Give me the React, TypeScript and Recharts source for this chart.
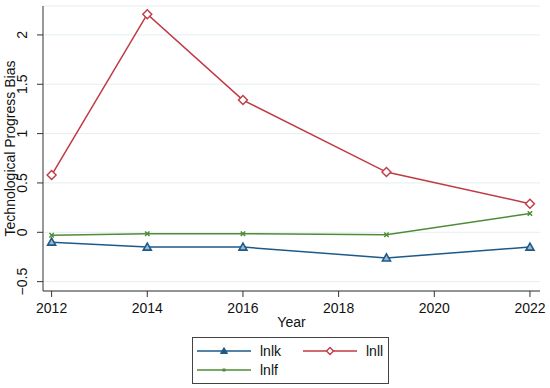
import React from "react";
import { LineChart, Line, XAxis, YAxis, CartesianGrid } from "recharts";

const years = [2012, 2014, 2016, 2019, 2022];
const lnlk = [-0.1, -0.15, -0.15, -0.26, -0.15];
const lnll = [0.58, 2.21, 1.34, 0.61, 0.29];
const lnlf = [-0.03, -0.015, -0.015, -0.025, 0.19];
const xTicks = [2012, 2014, 2016, 2018, 2020, 2022];
const yTicks = [-0.5, 0, 0.5, 1, 1.5, 2];
const seriesNames = ["lnlk", "lnll", "lnlf"];

const C_K = "#1c5a8a";
const C_L = "#c03a44";
const C_F = "#4e8c36";
const FONT = "'Liberation Sans', Arial, sans-serif";

const data = years.map((y, i) => ({ year: y, lnlk: lnlk[i], lnll: lnll[i], lnlf: lnlf[i] }));

const Tri = (props: any) => {
  const { cx, cy } = props;
  if (cx == null || cy == null) return null;
  const s = 4;
  return (
    <polygon
      points={`${cx},${cy - s} ${cx - s},${cy + s * 0.75} ${cx + s},${cy + s * 0.75}`}
      fill="#9fb8cf"
      stroke={C_K}
      strokeWidth={1.6}
    />
  );
};
const Dia = (props: any) => {
  const { cx, cy } = props;
  if (cx == null || cy == null) return null;
  const s = 4.5;
  return (
    <polygon
      points={`${cx},${cy - s} ${cx + s},${cy} ${cx},${cy + s} ${cx - s},${cy}`}
      fill="#fff"
      stroke={C_L}
      strokeWidth={1.4}
    />
  );
};
const Xm = (props: any) => {
  const { cx, cy } = props;
  if (cx == null || cy == null) return null;
  const s = 2.2;
  return (
    <g stroke={C_F} strokeWidth={1.5}>
      <line x1={cx - s} y1={cy - s} x2={cx + s} y2={cy + s} />
      <line x1={cx - s} y1={cy + s} x2={cx + s} y2={cy - s} />
    </g>
  );
};

const YTick = (props: any) => {
  const { x, y, payload } = props;
  const v = payload.value;
  const label = v < 0 ? "\u2212" + String(Math.abs(v)) : String(v);
  return (
    <text
      x={x - 8}
      y={y}
      transform={`rotate(-90, ${x - 8}, ${y})`}
      textAnchor="middle"
      fontSize={14}
      fontFamily={FONT}
      fill="#111"
    >
      {label}
    </text>
  );
};

const XTick = (props: any) => {
  const { x, y, payload } = props;
  return (
    <text x={x} y={y + 14} textAnchor="middle" fontSize={14} fontFamily={FONT} fill="#111">
      {payload.value}
    </text>
  );
};

const LegendBox = () => {
  const item = (x: number, y: number, color: string, Marker: any, label: string) => (
    <g>
      <line x1={x} y1={y} x2={x + 54} y2={y} stroke={color} strokeWidth={1.5} />
      <Marker cx={x + 27} cy={y} />
      <text x={x + 63} y={y + 5} fontSize={14} fontFamily={FONT} fill="#111">
        {label}
      </text>
    </g>
  );
  const SmallTri = (p: any) => (
    <polygon
      points={`${p.cx},${p.cy - 3.5} ${p.cx - 3.5},${p.cy + 2.5} ${p.cx + 3.5},${p.cy + 2.5}`}
      fill={C_K}
      stroke={C_K}
      strokeWidth={1}
    />
  );
  const SmallDia = (p: any) => (
    <polygon
      points={`${p.cx},${p.cy - 3.5} ${p.cx + 3.5},${p.cy} ${p.cx},${p.cy + 3.5} ${p.cx - 3.5},${p.cy}`}
      fill="#fff"
      stroke={C_L}
      strokeWidth={1.4}
    />
  );
  const SmallX = (p: any) => (
    <rect x={p.cx - 1.5} y={p.cy - 1.5} width={3} height={3} fill={C_F} />
  );
  return (
    <svg width={198} height={48} style={{ display: "block" }}>
      <rect x={0.5} y={0.5} width={196} height={46} fill="#fff" stroke="#444" strokeWidth={1} />
      {item(5, 14, C_K, SmallTri, seriesNames[0])}
      {item(111, 14, C_L, SmallDia, seriesNames[1])}
      {item(5, 33, C_F, SmallX, seriesNames[2])}
    </svg>
  );
};

export default function App() {
  return (
    <div style={{ position: "absolute", left: 0, top: 0, width: 550, height: 388, background: "#fff" }}>
      <LineChart
        width={550}
        height={388}
        data={data}
        margin={{ top: 6, right: 10, left: 0, bottom: 57 }}
      >
        <CartesianGrid horizontal={true} vertical={false} stroke="#e3eef0" strokeWidth={1} />
        <XAxis
          dataKey="year"
          type="number"
          domain={[2011.82, 2022.21]}
          ticks={xTicks}
          allowDataOverflow
          height={40}
          stroke="#333"
          tickSize={6}
          tick={<XTick />}
          tickLine={{ stroke: "#333" }}
          label={{ value: "Year", position: "insideBottom", offset: 4, fontSize: 14, fontFamily: FONT, fill: "#111" } as any}
        />
        <YAxis
          type="number"
          domain={[-0.595, 2.293]}
          ticks={yTicks}
          allowDataOverflow
          width={43}
          stroke="#333"
          tickSize={6}
          tick={<YTick />}
          tickLine={{ stroke: "#333" }}
          label={{
            value: "Technological Progress Bias",
            angle: -90,
            position: "insideLeft",
            offset: 0,
            dx: 10,
            fontSize: 14,
            fontFamily: FONT,
            fill: "#111",
            style: { textAnchor: "middle" },
          } as any}
        />
        <Line dataKey="lnlk" name={seriesNames[0]} stroke={C_K} strokeWidth={1.5} dot={<Tri />} isAnimationActive={false} />
        <Line dataKey="lnll" name={seriesNames[1]} stroke={C_L} strokeWidth={1.5} dot={<Dia />} isAnimationActive={false} />
        <Line dataKey="lnlf" name={seriesNames[2]} stroke={C_F} strokeWidth={1.5} dot={<Xm />} isAnimationActive={false} />
      </LineChart>
      <div style={{ position: "absolute", left: 192, top: 337 }}>
        <LegendBox />
      </div>
    </div>
  );
}
